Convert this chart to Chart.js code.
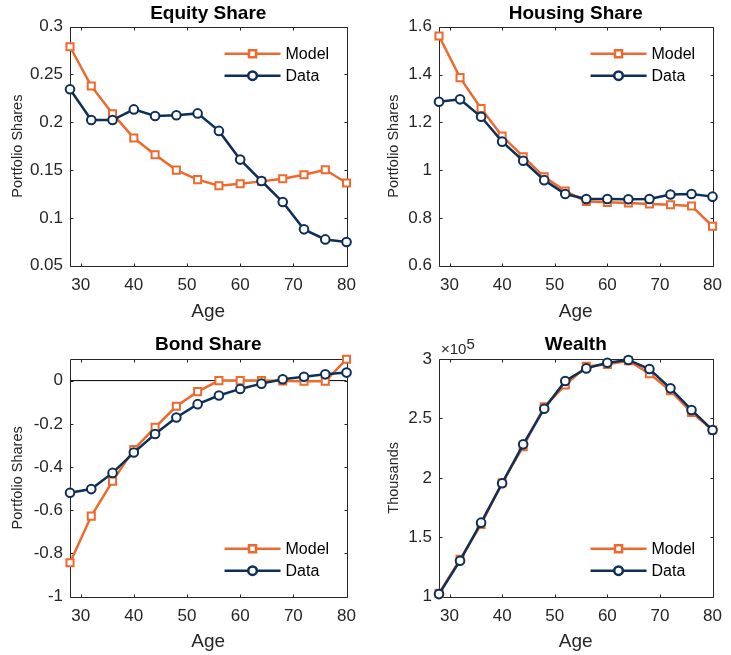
<!DOCTYPE html>
<html>
<head>
<meta charset="utf-8">
<title>Portfolio shares and wealth by age</title>
<script src="https://cdn.jsdelivr.net/npm/chart.js@4/dist/chart.umd.min.js"></script>
<style>
  html, body { margin: 0; padding: 0; background: #fff; }
  body { width: 731px; height: 655px; position: relative; overflow: hidden; }
  .panel { position: absolute; height: 330px; }
  .panel.left { left: 0; width: 365px; }
  .panel.right { left: 365px; width: 366px; }
  .panel.top { top: 0; }
  .panel.bottom { top: 330px; }
</style>
</head>
<body>
<div class="panel left top"><canvas id="equityChart"></canvas></div>
<div class="panel right top"><canvas id="housingChart"></canvas></div>
<div class="panel left bottom"><canvas id="bondChart"></canvas></div>
<div class="panel right bottom"><canvas id="wealthChart"></canvas></div>

<script>
// ==================== DATA ====================

const ages = [28, 32, 36, 40, 44, 48, 52, 56, 60, 64, 68, 72, 76, 80];
const ageTicks = [30, 40, 50, 60, 70, 80];

const equityModel = [0.279, 0.238, 0.209, 0.1835, 0.166, 0.150, 0.140, 0.1337, 0.1358, 0.1382, 0.141, 0.1452, 0.1504, 0.1365];
const equityData = [0.2345, 0.2024, 0.2024, 0.2135, 0.2066, 0.2073, 0.2093, 0.191, 0.161, 0.1386, 0.1166, 0.088, 0.0775, 0.0748];
const equityTicks = [0.05, 0.1, 0.15, 0.2, 0.25, 0.3];

const housingModel = [1.561, 1.387, 1.258, 1.1425, 1.056, 0.972, 0.912, 0.869, 0.865, 0.862, 0.858, 0.855, 0.85, 0.765];
const housingData = [1.286, 1.296, 1.223, 1.119, 1.039, 0.958, 0.9, 0.879, 0.879, 0.878, 0.879, 0.898, 0.9, 0.889];
const housingTicks = [0.6, 0.8, 1, 1.2, 1.4, 1.6];

const bondModel = [-0.843, -0.627, -0.465, -0.319, -0.216, -0.119, -0.051, 0, 0, 0, -0.002, -0.003, -0.003, 0.099];
const bondData = [-0.519, -0.502, -0.427, -0.333, -0.247, -0.171, -0.109, -0.069, -0.0385, -0.014, 0.006, 0.018, 0.029, 0.037];
const bondTicks = [-1, -0.8, -0.6, -0.4, -0.2, 0];

// wealth in thousands
const wealthModel = [102800, 131400, 160800, 195900, 226200, 259800, 278100, 293800, 295500, 298600, 287700, 273300, 255100, 240200];
const wealthData = [102200, 130300, 162300, 195400, 228200, 258200, 281500, 292100, 296900, 299200, 291600, 275300, 257100, 240200];
const wealthTicks = [100000, 150000, 200000, 250000, 300000];

// ==================== STYLE ====================

const ORANGE = '#EC6A2E';
const NAVY = '#0E2F57';
const AXIS = '#262626';
const FONT = "'Liberation Sans', Arial, Helvetica, sans-serif";

Chart.defaults.font.family = FONT;
Chart.defaults.color = AXIS;
Chart.defaults.animation = false;

// MATLAB-like box with inward ticks, drawn under the lines
const matlabAxes = {
  id: 'matlabAxes',
  beforeDatasetsDraw(chart) {
    const { ctx, chartArea: a, scales: { x, y } } = chart;
    const L = Math.round(a.left) + 0.5, R = Math.round(a.right) + 0.5;
    const T = Math.round(a.top) + 0.5, B = Math.round(a.bottom) + 0.5;
    ctx.save();
    ctx.strokeStyle = AXIS;
    ctx.lineWidth = 1;
    ctx.beginPath();
    x.ticks.forEach(t => {
      const px = Math.round(x.getPixelForValue(t.value)) + 0.5;
      ctx.moveTo(px, B); ctx.lineTo(px, B - 3);
      ctx.moveTo(px, T); ctx.lineTo(px, T + 3);
    });
    y.ticks.forEach(t => {
      const py = Math.round(y.getPixelForValue(t.value)) + 0.5;
      ctx.moveTo(L, py); ctx.lineTo(L + 3, py);
      ctx.moveTo(R, py); ctx.lineTo(R - 3, py);
    });
    ctx.rect(L, T, R - L, B - T);
    ctx.stroke();
    ctx.restore();
  }
};

// legend drawn inside the axes, like MATLAB's 'northeast' / 'southeast'
const insideLegend = {
  id: 'insideLegend',
  afterDraw(chart, args, opts) {
    if (!opts || !opts.corner) return;
    const { ctx, chartArea: a } = chart;
    const items = chart.data.datasets.filter(d => !d.hideInLegend);
    const x0 = a.right - 122;
    const rowY = opts.corner === 'top' ? [a.top + 27, a.top + 49] : [a.bottom - 48, a.bottom - 26];
    ctx.save();
    items.forEach((d, i) => {
      const yy = rowY[i];
      ctx.strokeStyle = d.borderColor;
      ctx.lineWidth = d.borderWidth;
      ctx.beginPath();
      ctx.moveTo(x0, yy);
      ctx.lineTo(x0 + 56, yy);
      ctx.stroke();
      ctx.fillStyle = d.pointBackgroundColor;
      ctx.strokeStyle = d.borderColor;
      Chart.helpers.drawPoint(ctx, { pointStyle: d.pointStyle, radius: d.pointRadius, borderWidth: d.pointBorderWidth, rotation: 0 }, x0 + 28, yy);
      ctx.fillStyle = '#000';
      ctx.font = `16px ${FONT}`;
      ctx.textAlign = 'left';
      ctx.textBaseline = 'middle';
      ctx.fillText(d.label, x0 + 61, yy + 1);
    });
    ctx.restore();
  }
};

// the "x10^5" exponent label above the y axis
const axisExponent = {
  id: 'axisExponent',
  afterDraw(chart, args, opts) {
    if (!opts || !opts.exp) return;
    const { ctx, chartArea: a } = chart;
    ctx.save();
    ctx.fillStyle = AXIS;
    ctx.textAlign = 'left';
    ctx.textBaseline = 'middle';
    ctx.font = `15px ${FONT}`;
    const base = '\u00d710';
    ctx.fillText(base, a.left + 2, a.top - 9);
    const w = ctx.measureText(base).width;
    ctx.fillText(opts.exp, a.left + 2 + w, a.top - 14);
    ctx.restore();
  }
};

function lineSet(label, values, color, style) {
  return {
    label,
    data: values.map((v, i) => ({ x: ages[i], y: v })),
    borderColor: color,
    borderWidth: 2.5,
    pointStyle: style,
    pointRadius: style === 'rect' ? 5 : 4.3,
    pointBorderWidth: 2,
    pointBackgroundColor: '#fff',
    pointBorderColor: color,
    tension: 0,
    clip: false,
    order: label === 'Data' ? 1 : 2
  };
}

function makeChart(id, cfg) {
  const datasets = [
    lineSet('Model', cfg.model, ORANGE, 'rect'),
    lineSet('Data', cfg.data, NAVY, 'circle')
  ];
  if (cfg.zeroLine) {
    datasets.push({
      label: 'zero',
      hideInLegend: true,
      data: [{ x: ages[0], y: 0 }, { x: ages[ages.length - 1], y: 0 }],
      borderColor: '#000',
      borderWidth: 1,
      pointRadius: 0,
      order: 3
    });
  }
  const right = cfg.side === 'right';
  const bottom = cfg.row === 'bottom';
  return new Chart(document.getElementById(id), {
    type: 'line',
    data: { datasets },
    options: {
      responsive: true,
      maintainAspectRatio: false,
      devicePixelRatio: 1,
      layout: { padding: { left: 0, right: right ? 9.3 : 14.3, top: 0, bottom: 0 } },
      plugins: {
        legend: { display: false },
        tooltip: { enabled: false },
        title: {
          display: true,
          text: cfg.title,
          fullSize: false,
          color: '#000',
          font: { size: 19, weight: 'bold' },
          padding: bottom ? { top: 3, bottom: 3.2 } : { top: 1.9, bottom: 2 }
        },
        insideLegend: { corner: cfg.legend },
        axisExponent: { exp: cfg.exp || null }
      },
      scales: {
        x: {
          type: 'linear',
          min: 28,
          max: 80,
          grid: { display: false, drawTicks: false },
          border: { display: false },
          afterBuildTicks: s => { s.ticks = ageTicks.map(v => ({ value: v })); },
          afterFit: s => { s.height = bottom ? 63.3 : 64.3; },
          ticks: { autoSkip: false, maxRotation: 0, padding: 9, font: { size: 17 }, color: AXIS },
          title: { display: true, text: 'Age', font: { size: 19 }, color: AXIS, padding: { top: 0, bottom: 7 } }
        },
        y: {
          type: 'linear',
          min: cfg.min,
          max: cfg.max,
          grid: { display: false, drawTicks: false },
          border: { display: false },
          afterBuildTicks: s => { s.ticks = cfg.ticks.map(v => ({ value: v })); },
          afterFit: s => { s.width = right ? 74 : 70; },
          ticks: { padding: 7, font: { size: 17 }, color: AXIS, callback: cfg.fmt || (v => String(Number(v.toFixed(2)))) },
          title: { display: true, text: cfg.ylabel, font: { size: 14.5 }, color: AXIS, padding: { top: right ? 20 : 9, bottom: 0 } }
        }
      }
    },
    plugins: [matlabAxes, insideLegend, axisExponent]
  });
}

makeChart('equityChart', {
  title: 'Equity Share', ylabel: 'Portfolio Shares', side: 'left', row: 'top', legend: 'top',
  model: equityModel, data: equityData, ticks: equityTicks, min: 0.05, max: 0.3
});

makeChart('housingChart', {
  title: 'Housing Share', ylabel: 'Portfolio Shares', side: 'right', row: 'top', legend: 'top',
  model: housingModel, data: housingData, ticks: housingTicks, min: 0.6, max: 1.6
});

makeChart('bondChart', {
  title: 'Bond Share', ylabel: 'Portfolio Shares', side: 'left', row: 'bottom', legend: 'bottom',
  model: bondModel, data: bondData, ticks: bondTicks, min: -1, max: 0.1, zeroLine: true
});

makeChart('wealthChart', {
  title: 'Wealth', ylabel: 'Thousands', side: 'right', row: 'bottom', legend: 'bottom',
  model: wealthModel, data: wealthData, ticks: wealthTicks, min: 100000, max: 300000,
  exp: '5', fmt: v => String(Number((v / 100000).toFixed(2)))
});
</script>
</body>
</html>
